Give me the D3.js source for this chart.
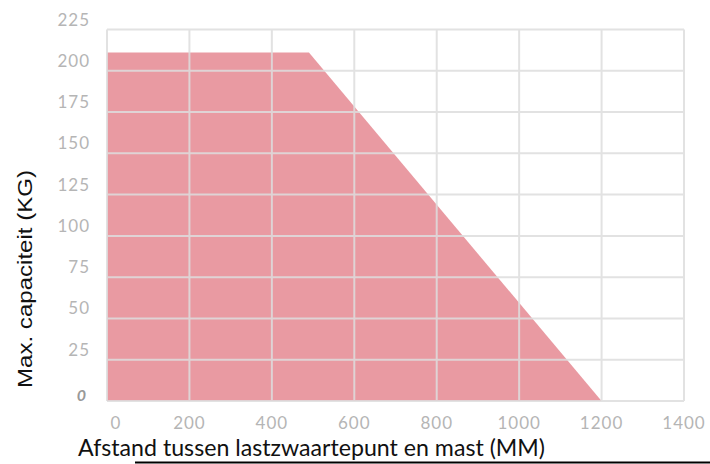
<!DOCTYPE html>
<html>
<head>
<meta charset="utf-8">
<script src="https://cdn.jsdelivr.net/npm/d3@7"></script>
<style>
  body { margin: 0; background: #fff; }
  svg { display: block; }
</style>
</head>
<body>
<svg width="710" height="464"></svg>
<script>
// capacity curve (distance in mm, max load in kg)
var distance = [0, 490, 1200];
var capacity = [211, 211, 0];
var xTicks = [0, 200, 400, 600, 800, 1000, 1200, 1400];
var yTicks = [0, 25, 50, 75, 100, 125, 150, 175, 200, 225];

var svg = d3.select("svg");
var margin = {left: 107, right: 26, top: 29.5, bottom: 63};
var width = +svg.attr("width");
var height = +svg.attr("height");

var x = d3.scaleLinear()
    .domain([0, 1400])
    .range([margin.left, width - margin.right]);
var y = d3.scaleLinear()
    .domain([0, 225])
    .range([height - margin.bottom, margin.top]);

var points = distance.map(function(d, i) { return [d, capacity[i]]; });

var area = d3.area()
    .x(function(d) { return x(d[0]); })
    .y0(y(0))
    .y1(function(d) { return y(d[1]); });

svg.append("path")
    .datum(points)
    .attr("d", area)
    .style("fill", "#e99aa2");

// grid on top of the fill
var grid = svg.append("g")
    .style("stroke", "#dedede")
    .style("stroke-width", 2)
    .style("opacity", 0.85);

grid.selectAll("line.v")
    .data(xTicks)
    .enter().append("line")
      .attr("class", "v")
      .attr("x1", function(d) { return x(d); })
      .attr("x2", function(d) { return x(d); })
      .attr("y1", y(225))
      .attr("y2", y(0));

grid.selectAll("line.h")
    .data(yTicks)
    .enter().append("line")
      .attr("class", "h")
      .attr("x1", x(0))
      .attr("x2", x(1400))
      .attr("y1", function(d) { return y(d); })
      .attr("y2", function(d) { return y(d); });

// y tick labels
svg.append("g")
  .selectAll("text")
  .data(yTicks)
  .enter().append("text")
    .attr("x", function(d) { return d === 0 ? 86 : 90; })
    .attr("y", function(d) { return y(d) - (d === 0 ? 0 : 4); })
    .attr("text-anchor", "end")
    .style("font-family", "Lato, sans-serif")
    .style("font-size", function(d) { return d === 0 ? "16px" : "17px"; })
    .style("letter-spacing", function(d) { return d === 0 ? "0" : "1px"; })
    .style("font-style", function(d) { return d === 0 ? "italic" : "normal"; })
    .style("font-weight", function(d) { return d === 0 ? "bold" : "normal"; })
    .style("fill", function(d) { return d === 0 ? "#999" : "#b5b5b5"; })
    .text(function(d) { return d; });

// x tick labels
svg.append("g")
  .selectAll("text")
  .data(xTicks)
  .enter().append("text")
    .attr("x", function(d) { return x(d) + (d === 0 ? 9 : 0); })
    .attr("y", y(0) + 28)
    .attr("text-anchor", "middle")
    .style("font-family", "Lato, sans-serif")
    .style("font-size", "17px")
    .style("letter-spacing", "1px")
    .style("fill", "#b5b5b5")
    .text(function(d) { return d; });

// axis titles
svg.append("text")
    .attr("transform", "translate(32,279) rotate(-90)")
    .attr("text-anchor", "middle")
    .attr("textLength", 218)
    .attr("lengthAdjust", "spacingAndGlyphs")
    .style("font-family", "'Liberation Sans', Arial, sans-serif")
    .style("font-size", "20px")
    .style("fill", "#111")
    .text("Max. capaciteit (KG)");

svg.append("text")
    .attr("x", 78)
    .attr("y", 456)
    .attr("textLength", 467)
    .attr("lengthAdjust", "spacingAndGlyphs")
    .style("font-family", "Lato, sans-serif")
    .style("font-size", "23px")
    .style("fill", "#111")
    .text("Afstand tussen lastzwaartepunt en mast (MM)");

svg.append("line")
    .attr("x1", 135)
    .attr("x2", 710)
    .attr("y1", 462.5)
    .attr("y2", 462.5)
    .style("stroke", "#000")
    .style("stroke-width", 2);
</script>
</body>
</html>
